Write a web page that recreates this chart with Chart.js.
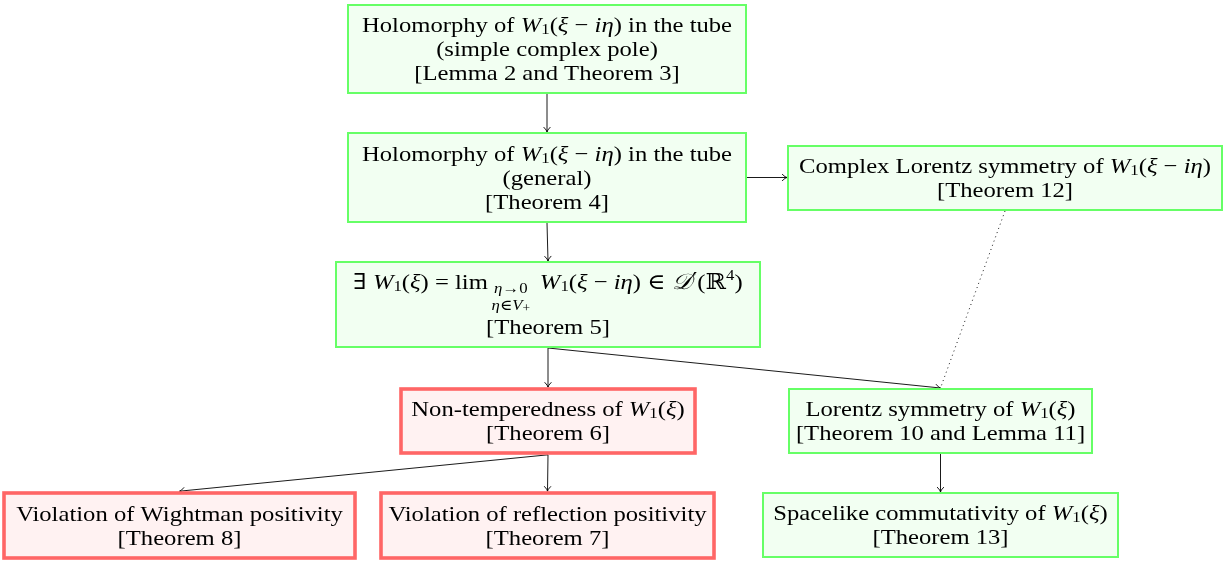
<!DOCTYPE html>
<html><head><meta charset="utf-8">
<script src="https://cdn.jsdelivr.net/npm/chart.js@4/dist/chart.umd.min.js"></script>
<style>html,body{margin:0;padding:0;background:#fff}#c{display:block}</style>
</head><body>
<canvas id="c" width="1226" height="561"></canvas>
<script>
// ---- DATA ----
// Node text lines: each line is a list of [text, style] segments
const W1 = [['W','i'],['1','sub'],['(','r'],['ξ','i']];
const nodeLines = [
  [[['Holomorphy of ','r'],...W1,[' − ','r'],['iη','i'],[') in the tube','r']],[['(simple complex pole)','r']],[['[Lemma 2 and Theorem 3]','r']]],
  [[['Holomorphy of ','r'],...W1,[' − ','r'],['iη','i'],[') in the tube','r']],[['(general)','r']],[['[Theorem 4]','r']]],
  [[['Complex Lorentz symmetry of ','r'],...W1,[' − ','r'],['iη','i'],[')','r']],[['[Theorem 12]','r']]],
  [[['∃ ','r'],...W1,[') = lim ','r'],['η','anchori'],['→0','anchor'],['  ','r'],...W1,[' − ','r'],['iη','i'],[') ∈ ','r'],['𝒟','i'],['′','prime'],['(ℝ','r'],['4','sup'],[')','r']],
   {under:true, segs:[['η','smalli'],['∈','small'],['V','smalli'],['+','tiny']]},
   [['[Theorem 5]','r']]],
  [[['Non-temperedness of ','r'],...W1,[')','r']],[['[Theorem 6]','r']]],
  [[['Lorentz symmetry of ','r'],...W1,[')','r']],[['[Theorem 10 and Lemma 11]','r']]],
  [[['Violation of Wightman positivity','r']],[['[Theorem 8]','r']]],
  [[['Violation of reflection positivity','r']],[['[Theorem 7]','r']]],
  [[['Spacelike commutativity of ','r'],...W1,[')','r']],[['[Theorem 13]','r']]]
];
const nodeX = [547, 547, 1005, 548, 548, 940.5, 179.5, 547.5, 940.5];
const nodeY = [49, 177.5, 178, 304.5, 421, 421, 525.5, 525.5, 525];
const nodeStatus = ['holds','holds','holds','holds','fails','holds','fails','fails','holds'];
const edgeFrom = [0, 1, 1, 3, 3, 4, 4, 5, 2];
const edgeTo   = [1, 2, 3, 4, 5, 6, 7, 8, 5];
const edgeKind = ['arrow','arrow','arrow','arrow','arrow','arrow','arrow','arrow','dotted'];

// ---- LAYOUT (not data) ----
const boxW = [398, 398, 434, 424, 294, 303, 351, 333, 355];
const boxH = [88, 89, 64, 85, 64, 64, 65, 65, 64];
const FONT = '"Liberation Serif","DejaVu Serif",serif';
const FS = 22;
const HS = 1.12;   // horizontal stretch to mimic Computer Modern widths
const SM = Math.round(FS*0.7);
const TEXT_DY = 1.5;
const styles = {
  holds: {fill:'rgb(242,255,242)', stroke:'rgb(102,255,102)', lw:2},
  fails: {fill:'rgb(255,242,242)', stroke:'rgb(255,102,102)', lw:3.6}
};
function segFont(st){
  switch(st){
    case 'i': return {f:'italic '+FS+'px '+FONT, dy:0};
    case 'sub': return {f:SM+'px '+FONT, dy:4};
    case 'sup': return {f:SM+'px '+FONT, dy:-7};
    case 'prime': return {f:FS+'px "DejaVu Serif",serif', dy:-1};
    case 'anchor': return {f:SM+'px '+FONT, dy:6};
    case 'anchori': return {f:'italic '+SM+'px '+FONT, dy:6};
    case 'small': return {f:SM+'px '+FONT, dy:0};
    case 'smalli': return {f:'italic '+SM+'px '+FONT, dy:0};
    case 'tiny': return {f:Math.round(FS*0.55)+'px '+FONT, dy:3};
    default: return {f:FS+'px '+FONT, dy:0};
  }
}
function drawLine(ctx, segs, cx, cy, anchorCenter){
  let w = 0; const ms=[];
  for(const [t,st] of segs){ const sf=segFont(st); ctx.font=sf.f; const m=ctx.measureText(t).width*HS; ms.push(m); w+=m; }
  let x = anchorCenter!=null ? anchorCenter - w/2 : cx - w/2;
  let a0=null, a1=null;
  segs.forEach(([t,st],k)=>{ const sf=segFont(st); ctx.font=sf.f;
    ctx.save(); ctx.translate(x,cy+sf.dy); ctx.scale(HS,1); ctx.fillText(t,0,0); ctx.restore();
    if(st.startsWith('anchor')){ if(a0==null) a0=x; a1=x+ms[k]; } x+=ms[k]; });
  return a0==null?null:(a0+a1)/2;
}
function arrowHead(ctx,x1,y1,x2,y2){
  const a=Math.atan2(y2-y1,x2-x1), L=6, s=0.6;
  ctx.beginPath();
  ctx.moveTo(x2-L*Math.cos(a-s), y2-L*Math.sin(a-s));
  ctx.quadraticCurveTo(x2-1.5*Math.cos(a),y2-1.5*Math.sin(a),x2,y2);
  ctx.quadraticCurveTo(x2-1.5*Math.cos(a),y2-1.5*Math.sin(a),x2-L*Math.cos(a+s), y2-L*Math.sin(a+s));
  ctx.stroke();
}
const diagram = {
  id:'diagram',
  afterDatasetsDraw(chart){
    const ctx=chart.ctx, xs=chart.scales.x, ys=chart.scales.y;
    const px=i=>xs.getPixelForValue(nodeX[i]), py=i=>ys.getPixelForValue(nodeY[i]);
    const hw=i=>Math.abs(xs.getPixelForValue(nodeX[i]+boxW[i]/2)-px(i));
    const hh=i=>Math.abs(ys.getPixelForValue(nodeY[i]+boxH[i]/2)-py(i));
    const os=i=>styles[nodeStatus[i]].lw/2;
    ctx.save();
    // edges
    edgeFrom.forEach((f,k)=>{
      const t=edgeTo[k]; let x1,y1,x2,y2;
      if(Math.abs(nodeY[f]-nodeY[t])<5){ x1=px(f)+hw(f)+os(f); y1=py(f); x2=px(t)-hw(t)-os(t); y2=py(f); }
      else { x1=px(f); y1=py(f)+hh(f)+os(f); x2=px(t); y2=py(t)-hh(t)-os(t); }
      ctx.strokeStyle='#000'; ctx.lineWidth=0.9;
      if(edgeKind[k]==='dotted'){ ctx.setLineDash([1,3.5]); }
      ctx.beginPath(); ctx.moveTo(x1,y1); ctx.lineTo(x2,y2); ctx.stroke();
      ctx.setLineDash([]);
      if(edgeKind[k]==='arrow') arrowHead(ctx,x1,y1,x2,y2);
    });
    // nodes
    nodeX.forEach((_,i)=>{
      const s=styles[nodeStatus[i]];
      const x=px(i)-hw(i), y=py(i)-hh(i);
      ctx.fillStyle=s.fill; ctx.fillRect(x,y,2*hw(i),2*hh(i));
      ctx.strokeStyle=s.stroke; ctx.lineWidth=s.lw; ctx.strokeRect(x,y,2*hw(i),2*hh(i));
      ctx.fillStyle='#000'; ctx.textBaseline='middle'; ctx.textAlign='left';
      const lines=nodeLines[i];
      const hts=lines.map(l=>Array.isArray(l)?24:21);
      const tot=hts.reduce((a,b)=>a+b,0);
      let cy=py(i)-tot/2+TEXT_DY; let anc=null;
      lines.forEach((l,k)=>{
        const yc=cy+hts[k]/2;
        if(Array.isArray(l)){ const a=drawLine(ctx,l,px(i),yc,null); if(a!=null) anc=a; }
        else drawLine(ctx,l.segs,px(i),yc,anc);
        cy+=hts[k];
      });
    });
    ctx.restore();
  }
};
new Chart(document.getElementById('c'),{
  type:'scatter',
  data:{datasets:[{data:nodeX.map((x,i)=>({x,y:nodeY[i]})),pointRadius:0}]},
  options:{responsive:false,animation:false,events:[],
    layout:{padding:0},
    plugins:{legend:{display:false},tooltip:{enabled:false}},
    scales:{x:{type:'linear',min:0,max:1226,display:false},y:{type:'linear',min:0,max:561,reverse:true,display:false}}},
  plugins:[diagram]
});
</script>
</body></html>
